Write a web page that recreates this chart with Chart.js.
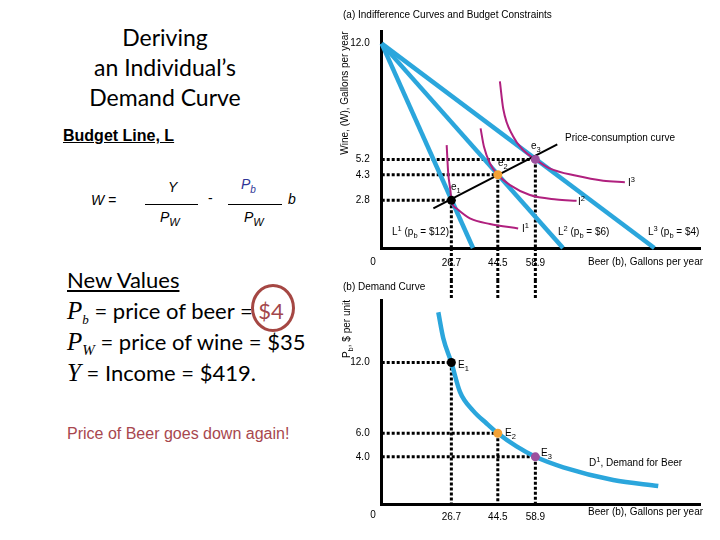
<!DOCTYPE html>
<html>
<head>
<meta charset="utf-8">
<script src="https://cdn.jsdelivr.net/npm/chart.js@4.4.1/dist/chart.umd.min.js"></script>
<style>
  html, body { margin: 0; padding: 0; background: #fff; }
  #slide { position: relative; width: 720px; height: 540px; overflow: hidden; background: #fff; }
  canvas { position: absolute; }
  #cTop { left: 330px; top: 0; }
  #cBot { left: 330px; top: 280px; }
  .cal { font-family: Lato, "Open Sans", sans-serif; color: #000; position: absolute; white-space: nowrap; }
  .ttl { left: 0; width: 330px; text-align: center; top: 22px; font-size: 23px; line-height: 30px; }
  .arl { font-family: "Liberation Sans", Arial, sans-serif; position: absolute; white-space: nowrap; }
  .it { font-style: italic; }
  .ser { font-family: "Liberation Serif", "Times New Roman", serif; font-style: italic; }
  .frac { position: absolute; height: 1px; background: #000; }
  .nv { left: 67px; font-size: 22px; line-height: 31px; }
</style>
</head>
<body>
<div id="slide">
  <div class="cal ttl">Deriving<br>an Individual’s<br>Demand Curve</div>

  <div class="arl" style="left:63px; top:127px; font-size:16px; font-weight:bold; text-decoration:underline;">Budget Line, L</div>

  <div class="arl it" style="left:91px; top:192px; font-size:14px;">W =</div>
  <div class="arl it" style="left:168px; top:179px; font-size:14px;">Y</div>
  <div class="frac" style="left:145px; top:204px; width:53px;"></div>
  <div class="arl it" style="left:160px; top:209px; font-size:14px;">P<sub style="font-size:11px;">W</sub></div>
  <div class="arl" style="left:208px; top:190px; font-size:14px;">-</div>
  <div class="arl it" style="left:241px; top:176px; font-size:14px; color:#2f3596;">P<sub style="font-size:10px;">b</sub></div>
  <div class="frac" style="left:228px; top:204px; width:54px;"></div>
  <div class="arl it" style="left:244px; top:209px; font-size:14px;">P<sub style="font-size:11px;">W</sub></div>
  <div class="arl it" style="left:288px; top:191px; font-size:14px;">b</div>

  <div class="cal nv" style="top:264px; text-decoration:underline;">New Values</div>
  <div class="cal nv" style="top:295px;"><span class="ser" style="font-size:25px;">P</span><sub class="ser" style="font-size:13px;">b</sub> = price of beer = <span style="color:#a3474b;">$4</span></div>
  <div class="cal nv" style="top:326px;"><span class="ser" style="font-size:25px;">P</span><sub class="ser" style="font-size:15px;">W</sub> = price of wine = $35</div>
  <div class="cal nv" style="top:357px;"><span class="ser" style="font-size:25px;">Y</span> = Income = $419.</div>
  <div style="position:absolute; left:251px; top:284px; width:44px; height:48px; box-sizing:border-box; border:3px solid #a54743; border-radius:50%;"></div>

  <div class="arl" style="left:67px; top:425px; font-size:16px; color:#a8474e;">Price of Beer goes down again!</div>

  <canvas id="cTop" width="390" height="280"></canvas>
  <canvas id="cBot" width="390" height="260"></canvas>
</div>

<script>
// equilibrium points
const eqBeer = [26.7, 44.5, 58.9];
const eqWine = [2.8, 4.3, 5.2];
const eqPrice = [12.0, 6.0, 4.0];
const eqColors = ['#000000', '#f4a236', '#9c509e'];

// tick labels
const beerTicks = [26.7, 44.5, 58.9];
const wineTicks = [12.0, 5.2, 4.3, 2.8];
const priceTicks = [12.0, 6.0, 4.0];

// budget lines: all start at 12 gallons of wine, end where beer is maxed
const wineIntercept = 12.0;
const budgetEnds = [35.0, 69.5, 104.5];

// indifference curves [beer, wine]
const indiff1 = [[24.9, 6.04], [25.5, 4.38], [26.4, 3.3], [26.7, 2.8], [28.7, 2.32], [33.8, 1.74], [41.5, 1.41], [52.3, 1.15]];
const indiff2 = [[37.9, 7.02], [39.2, 5.94], [41.5, 4.96], [44.5, 4.3], [49.2, 3.69], [56.8, 3.11], [67.0, 2.85], [74.7, 2.77]];
const indiff3 = [[45.3, 9.78], [46.6, 8.16], [50.4, 6.55], [54.3, 5.74], [58.9, 5.2], [64.3, 4.68], [74.7, 4.24], [84.9, 3.95], [93.2, 3.86]];

// price-consumption curve
const pccLine = [[19.8, 2.33], [67.3, 6.08]];

// demand curve [beer, price]
const demand = [[21.7, 16.26], [23.6, 14.06], [26.7, 12.0], [30.0, 9.51], [35.1, 7.9], [40.2, 6.83], [44.5, 6.0], [51.7, 4.88], [58.9, 4.0], [69.6, 3.11], [88.7, 2.04], [106.0, 1.53]];

const CYAN = '#2ba6dc';
const MAGENTA = '#b0207e';
const FONT = '"Liberation Sans", Arial, sans-serif';

const pts = arr => arr.map(p => ({ x: p[0], y: p[1] }));

function drawRich(ctx, parts, x, y, size, align) {
    const sz = p => (p[1] ? size * 0.75 : size);
    const widths = parts.map(p => { ctx.font = sz(p) + 'px ' + FONT; return ctx.measureText(p[0]).width; });
    const total = widths.reduce((a, b) => a + b, 0);
    let cx = align === 'center' ? x - total / 2 : (align === 'right' ? x - total : x);
    ctx.textAlign = 'left';
    ctx.textBaseline = 'middle';
    parts.forEach((p, i) => {
        ctx.font = sz(p) + 'px ' + FONT;
        const dy = p[1] === 'sub' ? size * 0.35 : (p[1] === 'sup' ? -size * 0.3 : 0);
        ctx.fillText(p[0], cx, y + dy);
        cx += widths[i];
    });
}

// text + the guide lines that cross from one panel into the other
function notesPlugin(notes, extendDown) {
    return {
        id: 'notes',
        afterDatasetsDraw(chart) {
            const ctx = chart.ctx;
            const xs = chart.scales.x;
            const area = chart.chartArea;
            ctx.save();
            ctx.strokeStyle = '#000';
            ctx.lineWidth = 3;
            ctx.setLineDash([3, 2]);
            eqBeer.forEach(b => {
                const px = xs.getPixelForValue(b);
                ctx.beginPath();
                if (extendDown) { ctx.moveTo(px, area.bottom); ctx.lineTo(px, chart.height); }
                else { ctx.moveTo(px, 0); ctx.lineTo(px, area.top); }
                ctx.stroke();
            });
            ctx.restore();
        },
        afterDraw(chart) {
            const ctx = chart.ctx;
            ctx.save();
            ctx.fillStyle = '#000';
            notes.forEach(n => {
                if (n.rot) {
                    ctx.save();
                    ctx.translate(n.x, n.y);
                    ctx.rotate(-Math.PI / 2);
                    drawRich(ctx, n.parts, 0, 0, n.size || 10, 'center');
                    ctx.restore();
                } else {
                    drawRich(ctx, n.parts, n.x, n.y, n.size || 10, n.align || 'left');
                }
            });
            ctx.restore();
        }
    };
}

function guideSets(yVals) {
    const sets = [];
    eqBeer.forEach((b, i) => {
        sets.push({ data: [{ x: 0, y: yVals[i] }, { x: b, y: yVals[i] }] });
        sets.push({ data: [{ x: b, y: yVals[i] }, { x: b, y: 0 }] });
    });
    return sets.map(s => Object.assign(s, {
        showLine: true, borderColor: '#000', borderWidth: 3, borderDash: [3, 2],
        pointRadius: 0, clip: false
    }));
}

function xScale(height, pad) {
    return {
        type: 'linear', min: 0, max: 122,
        grid: { display: false },
        border: { display: true, color: '#000', width: 3 },
        afterBuildTicks: s => { s.ticks = beerTicks.map(v => ({ value: v })); },
        afterFit: s => { s.height = height; },
        ticks: { autoSkip: false, maxRotation: 0, padding: pad, color: '#000',
                 font: { family: FONT, size: 10 }, callback: v => v.toFixed(1) }
    };
}

function yScale(max, ticks) {
    return {
        type: 'linear', min: 0, max: max,
        grid: { display: false },
        border: { display: true, color: '#000', width: 3 },
        afterBuildTicks: s => { s.ticks = ticks.map(v => ({ value: v })); },
        afterFit: s => { s.width = 51.7; },
        ticks: { autoSkip: false, padding: 4, color: '#000',
                 font: { family: FONT, size: 10 }, callback: v => v.toFixed(1) }
    };
}

const topNotes = [
    { x: 13, y: 15, parts: [['(a) Indifference Curves and Budget Constraints']] },
    { x: 15, y: 93, rot: true, parts: [['Wine, (W), Gallons per year']] },
    { x: 235, y: 138, parts: [['Price-consumption curve']] },
    { x: 121, y: 187, parts: [['e'], ['1', 'sub']] },
    { x: 168, y: 163, parts: [['e'], ['2', 'sub']] },
    { x: 201, y: 146, parts: [['e'], ['3', 'sub']] },
    { x: 192, y: 229, parts: [['I'], ['1', 'sup']] },
    { x: 248, y: 202, parts: [['I'], ['2', 'sup']] },
    { x: 298, y: 183, parts: [['I'], ['3', 'sup']] },
    { x: 62, y: 232, parts: [['L'], ['1', 'sup'], [' (p'], ['b', 'sub'], [' = $12)']] },
    { x: 228, y: 232, parts: [['L'], ['2', 'sup'], [' (p'], ['b', 'sub'], [' = $6)']] },
    { x: 318, y: 232, parts: [['L'], ['3', 'sup'], [' (p'], ['b', 'sub'], [' = $4)']] },
    { x: 43, y: 262, align: 'center', parts: [['0']] },
    { x: 258, y: 262, parts: [['Beer (b), Gallons per year']] }
];

const botNotes = [
    { x: 13, y: 7, parts: [['(b) Demand Curve']] },
    { x: 17, y: 49, rot: true, parts: [['P'], ['b', 'sub'], [', $ per unit']] },
    { x: 128, y: 85, parts: [['E'], ['1', 'sub']] },
    { x: 175, y: 153, parts: [['E'], ['2', 'sub']] },
    { x: 211, y: 173, parts: [['E'], ['3', 'sub']] },
    { x: 259, y: 183, parts: [['D'], ['1', 'sup'], [', Demand for Beer']] },
    { x: 43, y: 235, align: 'center', parts: [['0']] },
    { x: 258, y: 232, parts: [['Beer (b), Gallons per year']] }
];

const commonOpts = {
    responsive: false,
    animation: false,
    events: [],
    plugins: { legend: { display: false }, tooltip: { enabled: false } }
};

// (a) indifference curves and budget constraints
new Chart(document.getElementById('cTop'), {
    type: 'scatter',
    data: {
        datasets: [
            { data: eqBeer.map((b, i) => ({ x: b, y: eqWine[i] })), pointRadius: 4.5,
              pointBackgroundColor: eqColors, pointBorderWidth: 0, clip: false },
            { data: pts(pccLine), showLine: true, borderColor: '#000', borderWidth: 2, pointRadius: 0 },
            ...[indiff1, indiff2, indiff3].map(c => ({
                data: pts(c), showLine: true, borderColor: MAGENTA, borderWidth: 2,
                pointRadius: 0, cubicInterpolationMode: 'monotone'
            })),
            ...budgetEnds.map(e => ({
                data: [{ x: 0, y: wineIntercept }, { x: e, y: 0 }], showLine: true,
                borderColor: CYAN, borderWidth: 4.5, pointRadius: 0, clip: 4
            })),
            ...guideSets(eqWine)
        ]
    },
    options: Object.assign({}, commonOpts, {
        layout: { padding: { left: 0, top: 31.7, right: 20, bottom: 0 } },
        scales: { x: xScale(32, 1), y: yScale(12.7, wineTicks) }
    }),
    plugins: [notesPlugin(topNotes, true)]
});

// (b) demand curve
new Chart(document.getElementById('cBot'), {
    type: 'scatter',
    data: {
        datasets: [
            { data: eqBeer.map((b, i) => ({ x: b, y: eqPrice[i] })), pointRadius: 4.5,
              pointBackgroundColor: eqColors, pointBorderWidth: 0, clip: false },
            { data: pts(demand), showLine: true, borderColor: CYAN, borderWidth: 4.5,
              pointRadius: 0, cubicInterpolationMode: 'monotone' },
            ...guideSets(eqPrice)
        ]
    },
    options: Object.assign({}, commonOpts, {
        layout: { padding: { left: 0, top: 20, right: 20, bottom: 0 } },
        scales: { x: xScale(36, -1), y: yScale(17.3, priceTicks) }
    }),
    plugins: [notesPlugin(botNotes, false)]
});
</script>
</body>
</html>
